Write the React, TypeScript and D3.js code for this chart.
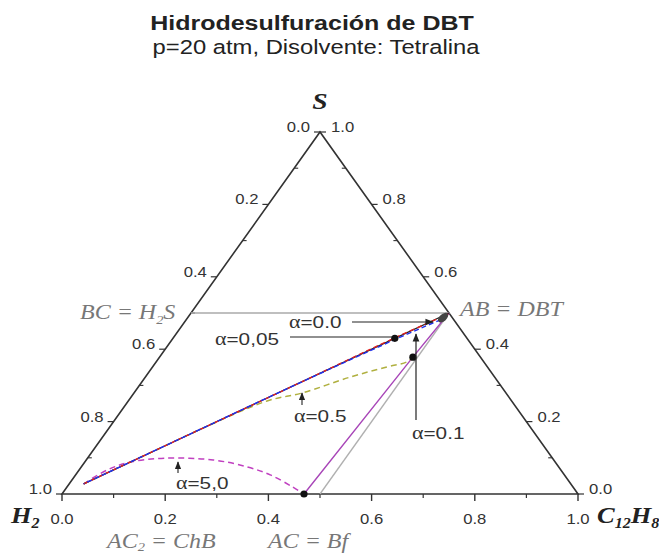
import React from "react";
import * as d3 from "d3";

// ---- data (ternary composition: c = C12H8 fraction, s = S fraction) ----
const tickValues = [0, 0.2, 0.4, 0.6, 0.8, 1.0];
const minorTickValues = [0.1, 0.3, 0.5, 0.7, 0.9];
const tickLabels = ["0.0", "0.2", "0.4", "0.6", "0.8", "1.0"];

const alpha0C = [0.028, 0.15, 0.3, 0.43, 0.5];
const alpha0S = [0.028, 0.15, 0.3, 0.43, 0.5];
const redC = [0.028, 0.15, 0.3, 0.43, 0.5];
const redS = [0.028, 0.15, 0.3, 0.432, 0.497];
const blueC = [0.028, 0.15, 0.3, 0.43, 0.497];
const blueS = [0.028, 0.15, 0.3, 0.425, 0.485];
const alpha05C = [0.028, 0.08, 0.13, 0.178, 0.269, 0.326, 0.397, 0.454, 0.486, 0.491];
const alpha05S = [0.028, 0.08, 0.13, 0.178, 0.257, 0.279, 0.323, 0.351, 0.365, 0.378];
const alpha5C = [0.028, 0.054, 0.088, 0.15, 0.246, 0.321, 0.377, 0.438, 0.469];
const alpha5S = [0.028, 0.066, 0.088, 0.099, 0.094, 0.075, 0.053, 0.019, 0.0];
const purpleC = [0.5, 0.491, 0.469];
const purpleS = [0.5, 0.378, 0.0];
const grayC = [0.5, 0.5];
const grayS = [0.5, 0.0];
const h2sC = [0.0, 0.5];
const h2sS = [0.5, 0.5];
const dotC = [0.43, 0.491, 0.469];
const dotS = [0.43, 0.378, 0.0];
const abBlob = [0.495, 0.487];

const W = 659;
const H = 555;
const x0 = 62, x1 = 578, yBase = 494, yTop = 132;
const xs = d3.scaleLinear().domain([0, 1]).range([x0, x1]);
const ys = d3.scaleLinear().domain([0, 1]).range([yBase, yTop]);
const P = (c: number, s: number): [number, number] => [xs(c + s / 2), ys(s)];

const pts = (cs: number[], ss: number[]) => cs.map((c, i) => P(c, ss[i]));
const lineLin = d3.line<[number, number]>().curve(d3.curveLinear);
const lineCurve = d3.line<[number, number]>().curve(d3.curveCatmullRom.alpha(0.5));

const SANS = "'Liberation Sans', Arial, sans-serif";
const SERIF = "'Liberation Serif', 'Times New Roman', serif";

function T(props: any) {
  const { x, y, sx = 1.22, anchor = "start", children, ...rest } = props;
  return (
    <text transform={`translate(${x},${y}) scale(${sx},1)`} textAnchor={anchor} {...rest}>
      {children}
    </text>
  );
}

function Alpha({ x, y, label }: { x: number; y: number; label: string }) {
  return (
    <T x={x} y={y} fontFamily={SANS} fontSize={17} fill="#333" sx={1.22}>
      <tspan fontFamily={SERIF} fontSize={18}>α</tspan>
      {label}
    </T>
  );
}

export default function App() {
  const apex = P(0, 1);
  const left = P(0, 0);
  const right = P(1, 0);
  const leftPt = (v: number) => [apex[0] + v * (left[0] - apex[0]), apex[1] + v * (left[1] - apex[1])];
  const rightPt = (v: number) => [right[0] + v * (apex[0] - right[0]), right[1] + v * (apex[1] - right[1])];
  const axisColor = "#333";
  const tickFont = { fontFamily: SANS, fontSize: 14.5, fill: "#333", sx: 1.15 };

  return (
    <svg width={W} height={H} style={{ position: "absolute", left: 0, top: 0, background: "#fff" }}>
      <defs>
        <marker id="arr" viewBox="0 0 10 10" refX="9" refY="5" markerWidth="7" markerHeight="7" orient="auto">
          <path d="M0,1 L10,5 L0,9 z" fill="#222" />
        </marker>
      </defs>
      {/* titles */}
      <T x={312} y={30} anchor="middle" sx={1.22} fontFamily={SANS} fontWeight="bold" fontSize={20.5} fill="#222">
        Hidrodesulfuración de DBT
      </T>
      <T x={316} y={54} anchor="middle" sx={1.22} fontFamily={SANS} fontSize={19.5} fill="#222">
        p=20 atm, Disolvente: Tetralina
      </T>

      {/* triangle */}
      <path d={`M${left[0]},${left[1]} L${right[0]},${right[1]} L${apex[0]},${apex[1]} Z`} fill="none" stroke={axisColor} strokeWidth={1.6} strokeLinejoin="miter" />

      {/* bottom axis ticks */}
      {tickValues.map((v, i) => (
        <g key={"b" + i}>
          <line x1={xs(v)} x2={xs(v)} y1={yBase} y2={yBase + 7} stroke={axisColor} strokeWidth={1.4} />
          <T x={xs(v)} y={524} anchor="middle" {...tickFont}>{tickLabels[i]}</T>
        </g>
      ))}
      {minorTickValues.map((v, i) => (
        <line key={"bm" + i} x1={xs(v)} x2={xs(v)} y1={yBase} y2={yBase + 4} stroke={axisColor} strokeWidth={1.2} />
      ))}
      {/* left axis (H2) ticks */}
      {tickValues.map((v, i) => {
        const [px, py] = leftPt(v);
        return (
          <g key={"l" + i}>
            <line x1={px} x2={px - 6} y1={py} y2={py} stroke={axisColor} strokeWidth={1.2} />
            <T x={px - 10} y={py} anchor="end" {...tickFont}>{tickLabels[i]}</T>
          </g>
        );
      })}
      {minorTickValues.map((v, i) => {
        const [px, py] = leftPt(v);
        return <line key={"lm" + i} x1={px} x2={px + 4} y1={py} y2={py} stroke={axisColor} strokeWidth={1.1} />;
      })}
      {/* right axis (S) ticks */}
      {tickValues.map((v, i) => {
        const [px, py] = rightPt(v);
        return (
          <g key={"r" + i}>
            <line x1={px} x2={px + 6} y1={py} y2={py} stroke={axisColor} strokeWidth={1.2} />
            <T x={px + 11} y={py} anchor="start" {...tickFont}>{tickLabels[i]}</T>
          </g>
        );
      })}
      {minorTickValues.map((v, i) => {
        const [px, py] = rightPt(v);
        return <line key={"rm" + i} x1={px} x2={px - 4} y1={py} y2={py} stroke={axisColor} strokeWidth={1.1} />;
      })}

      {/* reference lines */}
      <path d={lineLin(pts(h2sC, h2sS)) || ""} fill="none" stroke="#aaa" strokeWidth={1.6} />
      <path d={lineLin(pts(grayC, grayS)) || ""} fill="none" stroke="#b0b0b0" strokeWidth={1.3} />

      {/* series */}
      <path d={lineLin(pts(purpleC, purpleS)) || ""} fill="none" stroke="#a845b8" strokeWidth={1.4} />
      <path d={lineCurve(pts(alpha5C, alpha5S)) || ""} fill="none" stroke="#c040c0" strokeWidth={1.5} strokeDasharray="6,4" />
      <path d={lineCurve(pts(alpha05C, alpha05S)) || ""} fill="none" stroke="#b0b040" strokeWidth={1.5} strokeDasharray="6,4" />
      <path d={lineLin(pts(alpha0C, alpha0S)) || ""} fill="none" stroke="#222" strokeWidth={1.2} />
      <path d={lineCurve(pts(redC, redS)) || ""} fill="none" stroke="#e02020" strokeWidth={1.4} strokeDasharray="5,3" />
      <path d={lineCurve(pts(blueC, blueS)) || ""} fill="none" stroke="#2030f0" strokeWidth={1.4} strokeDasharray="5,3" strokeDashoffset={4} />

      {/* markers */}
      {dotC.map((c, i) => {
        const [px, py] = P(c, dotS[i]);
        return <circle key={"d" + i} cx={px} cy={py} r={3.6} fill="#111" />;
      })}
      {(() => {
        const [px, py] = P(abBlob[0], abBlob[1]);
        return <ellipse cx={px} cy={py} rx={6} ry={3.5} transform={`rotate(-40 ${px} ${py})`} fill="#444" />;
      })()}

      {/* annotations */}
      <line x1={352} y1={322} x2={433} y2={322} stroke="#222" strokeWidth={1.2} markerEnd="url(#arr)" />
      <line x1={290} y1={337} x2={392} y2={337} stroke="#222" strokeWidth={1.2} />
      <line x1={302} y1={405} x2={302} y2={393} stroke="#222" strokeWidth={1.1} markerEnd="url(#arr)" />
      <line x1={416} y1={420} x2={416} y2={334} stroke="#222" strokeWidth={1.2} markerEnd="url(#arr)" />
      <line x1={178} y1={473} x2={178} y2={462} stroke="#222" strokeWidth={1.1} markerEnd="url(#arr)" />

      <Alpha x={289} y={328} label="=0.0" />
      <Alpha x={215} y={345} label="=0,05" />
      <Alpha x={294} y={422} label="=0.5" />
      <Alpha x={412} y={439} label="=0.1" />
      <Alpha x={176} y={489} label="=5,0" />

      {/* vertex labels */}
      <T x={320} y={109} anchor="middle" sx={1.15} fontFamily={SERIF} fontStyle="italic" fontWeight="bold" fontSize={24} fill="#222">S</T>
      <T x={11} y={523} sx={1.15} fontFamily={SERIF} fontStyle="italic" fontWeight="bold" fontSize={23} fill="#222">
        H<tspan fontSize={14} dy={5}>2</tspan>
      </T>
      <T x={597} y={523} sx={1.15} fontFamily={SERIF} fontStyle="italic" fontWeight="bold" fontSize={23} fill="#222">
        C<tspan fontSize={14} dy={5}>12</tspan><tspan dy={-5}>H</tspan><tspan fontSize={14} dy={5}>8</tspan>
      </T>

      {/* species labels */}
      <T x={80} y={319} sx={1.2} fontFamily={SERIF} fontStyle="italic" fontSize={20} fill="#777">
        BC = H<tspan fontSize={12} dy={5}>2</tspan><tspan dy={-5}>S</tspan>
      </T>
      <T x={460} y={316} sx={1.2} fontFamily={SERIF} fontStyle="italic" fontSize={20} fill="#777">AB = DBT</T>
      <T x={107} y={548} sx={1.2} fontFamily={SERIF} fontStyle="italic" fontSize={20} fill="#777">
        AC<tspan fontSize={12} dy={3}>2</tspan><tspan dy={-3}> = ChB</tspan>
      </T>
      <T x={268} y={548} sx={1.2} fontFamily={SERIF} fontStyle="italic" fontSize={20} fill="#777">AC = Bf</T>
    </svg>
  );
}
